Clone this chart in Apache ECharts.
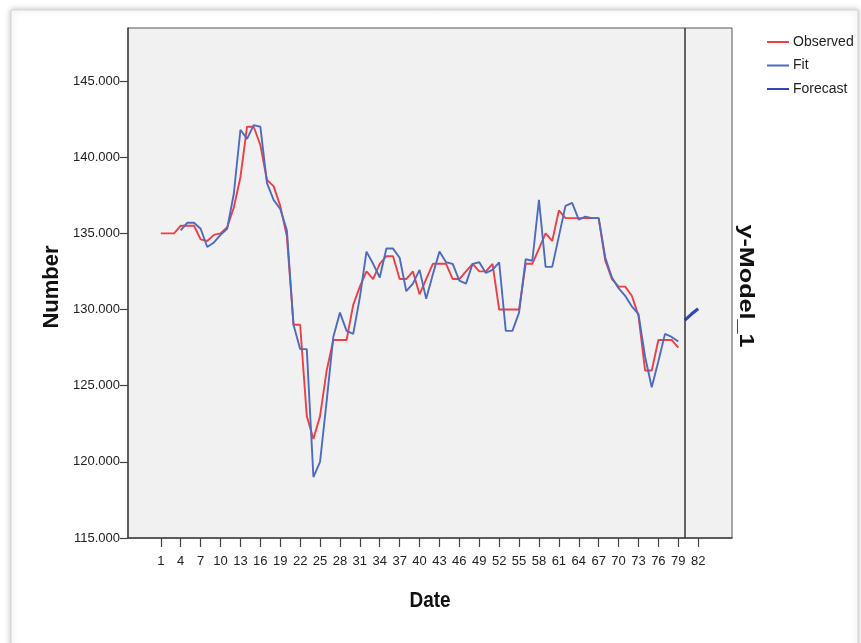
<!DOCTYPE html>
<html>
<head>
<meta charset="utf-8">
<script src="https://cdn.jsdelivr.net/npm/echarts@6/dist/echarts.min.js"></script>
<style>
html,body{margin:0;padding:0;background:#fff;}
#chart{width:861px;height:643px;}
</style>
</head>
<body>
<div id="chart"></div>
<script>
// ---- data ----
const dates = [1,2,3,4,5,6,7,8,9,10,11,12,13,14,15,16,17,18,19,20,21,22,23,24,25,26,27,28,29,30,31,32,33,34,35,36,37,38,39,40,41,42,43,44,45,46,47,48,49,50,51,52,53,54,55,56,57,58,59,60,61,62,63,64,65,66,67,68,69,70,71,72,73,74,75,76,77,78,79];
const observed = [135.0,135.0,135.0,135.5,135.5,135.5,134.6,134.5,134.9,135.0,
  135.4,136.7,138.7,142.0,142.0,140.8,138.5,138.1,136.8,134.8,
  129.0,129.0,123.0,121.5,123.0,126.0,128.0,128.0,128.0,130.3,
  131.5,132.5,132.0,133.0,133.5,133.5,132.0,132.0,132.5,131.0,
  132.0,133.0,133.0,133.0,132.0,132.0,132.5,133.0,132.5,132.5,
  133.0,130.0,130.0,130.0,130.0,133.0,133.0,134.0,135.0,134.5,
  136.5,136.0,136.0,136.0,136.0,136.0,136.0,133.2,132.0,131.5,
  131.5,130.9,129.6,126.0,126.0,128.0,128.0,128.0,127.5];
const fit = [null,null,null,135.2,135.7,135.7,135.3,134.1,134.4,134.9,
  135.3,137.6,141.8,141.2,142.1,142.0,138.3,137.2,136.6,135.2,
  129.0,127.4,127.4,119.0,120.0,124.0,128.2,129.8,128.6,128.4,
  130.8,133.8,133.0,132.1,134.0,134.0,133.4,131.2,131.7,132.6,
  130.7,132.3,133.8,133.1,133.0,131.9,131.7,133.0,133.1,132.4,
  132.6,133.1,128.6,128.6,129.8,133.3,133.2,137.2,132.8,132.8,
  134.8,136.8,137.0,135.9,136.1,136.0,136.0,133.4,132.1,131.4,
  130.9,130.2,129.7,126.9,124.9,126.6,128.4,128.2,127.9];
const forecastDates = [80,81,82];
const forecast = [129.3,129.7,130.05];
const forecastStart = 80;
const xTicks = [1,4,7,10,13,16,19,22,25,28,31,34,37,40,43,46,49,52,55,58,61,64,67,70,73,76,79,82];
const yTicks = [115,120,125,130,135,140,145];

const pairs = (xs, ys) => xs.map((x, i) => [x, ys[i]]).filter(p => p[1] != null);

const SANS = "'Liberation Sans', Arial, sans-serif";

const chart = echarts.init(document.getElementById('chart'), null, {renderer: 'canvas'});
chart.setOption({
  animation: false,
  backgroundColor: '#ffffff',
  grid: {
    left: 128, top: 28, right: 129, bottom: 105,
    show: true, backgroundColor: '#f1f1f1', borderColor: '#555', borderWidth: 1
  },
  legend: {
    orient: 'vertical', left: 761, top: 30,
    itemWidth: 22, itemHeight: 14, itemGap: 9.5,
    itemStyle: {color: 'rgba(0,0,0,0)', borderColor: 'rgba(0,0,0,0)', borderWidth: 0},
    textStyle: {fontFamily: SANS, fontSize: 14, color: '#222', padding: [0,0,0,-1]},
    data: ['Observed', 'Fit', 'Forecast']
  },
  xAxis: {
    type: 'value', min: -3.95, max: 87.1,
    axisLine: {show: true, onZero: false, lineStyle: {color: '#444', width: 1.5}},
    axisTick: {show: true, length: 9, customValues: xTicks, lineStyle: {color: '#444', width: 1.2}},
    axisLabel: {customValues: xTicks, margin: 17, fontFamily: SANS, fontSize: 13, color: '#222'},
    splitLine: {show: false}
  },
  yAxis: {
    type: 'value', min: 115, max: 148.48,
    axisLine: {show: true, onZero: false, lineStyle: {color: '#444', width: 1.5}},
    axisTick: {show: true, length: 8, customValues: yTicks, lineStyle: {color: '#444', width: 1.2}},
    axisLabel: {customValues: yTicks, margin: 8, fontFamily: SANS, fontSize: 13, color: '#222',
      formatter: v => v.toFixed(3)},
    splitLine: {show: false}
  },
  series: [
    {name: 'Observed', type: 'line', data: pairs(dates, observed), symbol: 'none',
      lineStyle: {color: '#ee3f47', width: 1.9}, itemStyle: {color: '#ee3f47'}, z: 2},
    {name: 'Fit', type: 'line', data: pairs(dates, fit), symbol: 'none',
      lineStyle: {color: '#4d6cc0', width: 1.9}, itemStyle: {color: '#4d6cc0'}, z: 3},
    {name: 'Forecast', type: 'line', data: pairs(forecastDates, forecast), symbol: 'none',
      lineStyle: {color: '#3347b5', width: 3.2}, itemStyle: {color: '#3347b5'}, z: 4,
      markLine: {silent: true, symbol: 'none', label: {show: false},
        lineStyle: {color: '#333', width: 1.5, type: 'solid'},
        data: [{xAxis: forecastStart}]}}
  ],
  graphic: [
    {type: 'rect', shape: {x: 11, y: 10, width: 847, height: 640}, z: -10,
      style: {fill: '#fff', stroke: '#d4d4d4', lineWidth: 1, shadowBlur: 6, shadowColor: 'rgba(0,0,0,0.25)'}},
    {type: 'text', x: 52, y: 287, rotation: Math.PI/2,
      style: {text: 'Number', font: 'bold 22px ' + SANS, fill: '#111', textAlign: 'center', textVerticalAlign: 'middle'}},
    {type: 'text', x: 430, y: 601, scaleY: 1.15,
      style: {text: 'Date', font: 'bold 19px ' + SANS, fill: '#111', textAlign: 'center', textVerticalAlign: 'middle'}},
    {type: 'text', x: 746, y: 286, rotation: -Math.PI/2, scaleX: 1.2,
      style: {text: 'y-Model_1', font: 'bold 21px ' + SANS, fill: '#111', textAlign: 'center', textVerticalAlign: 'middle'}}
  ]
});
</script>
</body>
</html>
